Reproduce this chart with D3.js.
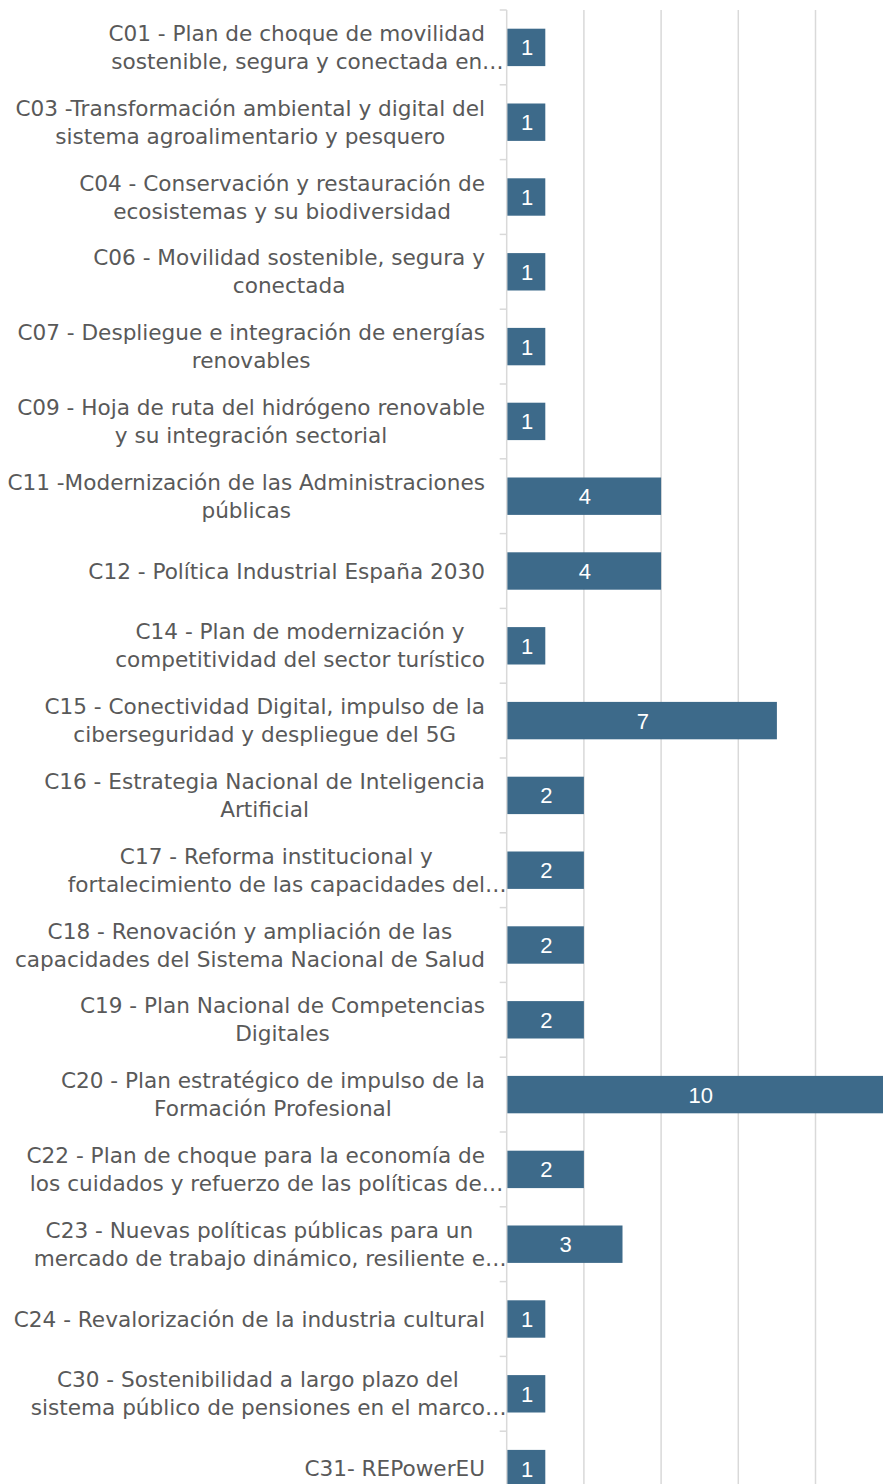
<!DOCTYPE html>
<html><head><meta charset="utf-8">
<script src="https://cdn.jsdelivr.net/npm/d3@7"></script>
<style>
html,body{margin:0;padding:0;background:#fff;overflow:hidden;}
svg{display:block;}
</style></head>
<body>
<script>
const categories = [
  "C01 - Plan de choque de movilidad|sostenible, segura y conectada en…",
  "C03 -Transformación ambiental y digital del|sistema agroalimentario y pesquero",
  "C04 - Conservación y restauración de|ecosistemas y su biodiversidad",
  "C06 - Movilidad sostenible, segura y|conectada",
  "C07 - Despliegue e integración de energías|renovables",
  "C09 - Hoja de ruta del hidrógeno renovable|y su integración sectorial",
  "C11 -Modernización de las Administraciones|públicas",
  "C12 - Política Industrial España 2030",
  "C14 - Plan de modernización y|competitividad del sector turístico",
  "C15 - Conectividad Digital, impulso de la|ciberseguridad y despliegue del 5G",
  "C16 - Estrategia Nacional de Inteligencia|Artificial",
  "C17 - Reforma institucional y|fortalecimiento de las capacidades del…",
  "C18 - Renovación y ampliación de las|capacidades del Sistema Nacional de Salud",
  "C19 - Plan Nacional de Competencias|Digitales",
  "C20 - Plan estratégico de impulso de la|Formación Profesional",
  "C22 - Plan de choque para la economía de|los cuidados y refuerzo de las políticas de…",
  "C23 - Nuevas políticas públicas para un|mercado de trabajo dinámico, resiliente e…",
  "C24 - Revalorización de la industria cultural",
  "C30 - Sostenibilidad a largo plazo del|sistema público de pensiones en el marco…",
  "C31- REPowerEU"
];
const values = [1,1,1,1,1,1,4,4,1,7,2,2,2,2,10,2,3,1,1,1];
const gridTicks = [2,4,6,8,10];

const W = 883, H = 1484;
const svg = d3.select("body").append("svg").attr("width", W).attr("height", H);

const x0 = 506.7;
const x = d3.scaleLinear().domain([0,10]).range([x0, x0 + 386]);
const y = d3.scaleBand().domain(categories).range([10, 10 + 74.8*20]).paddingInner(0.5).paddingOuter(0.25);

// gridlines
svg.append("g").selectAll("line").data(gridTicks).join("line")
  .attr("x1", d => x(d)).attr("x2", d => x(d))
  .attr("y1", 10).attr("y2", H)
  .attr("stroke", "#d9d9d9").attr("stroke-width", 1.5);

// bars
svg.append("g").selectAll("rect").data(categories).join("rect")
  .attr("x", x(0)).attr("y", d => y(d))
  .attr("width", (d,i) => x(values[i]) - x(0))
  .attr("height", y.bandwidth())
  .attr("fill", "#3d6a8a");

// value labels
svg.append("g").selectAll("text").data(categories).join("text")
  .attr("x", (d,i) => (x(0) + x(values[i]))/2 + 1)
  .attr("y", d => y(d) + y.bandwidth()/2)
  .attr("dy", "0.36em")
  .attr("text-anchor", "middle")
  .attr("fill", "#ffffff")
  .attr("font-family", "'Liberation Sans', Arial, sans-serif")
  .attr("font-size", 22)
  .text((d,i) => values[i]);

// axis line and ticks
const axisG = svg.append("g");
axisG.append("line").attr("x1", x0).attr("x2", x0).attr("y1", 10).attr("y2", H)
  .attr("stroke", "#d9d9d9").attr("stroke-width", 1.5);
axisG.selectAll("line.tk").data(d3.range(21)).join("line").attr("class","tk")
  .attr("x1", x0 - 7).attr("x2", x0)
  .attr("y1", i => 10 + i*y.step()).attr("y2", i => 10 + i*y.step())
  .attr("stroke", "#d9d9d9").attr("stroke-width", 1.5);

// category labels
const labelRight = 485, lineH = 28;
const lg = svg.append("g")
  .attr("font-family", "'DejaVu Sans', Verdana, sans-serif")
  .attr("font-size", 21.6)
  .attr("fill", "#595959");
categories.forEach((c) => {
  const lines = c.split("|");
  const cy = y(c) + y.bandwidth()/2;
  const texts = lines.map((ln, j) => lg.append("text")
      .attr("y", cy + (j - (lines.length-1)/2) * lineH)
      .attr("dy", "0.35em")
      .text(ln.replace("…","")));
  const widths = texts.map(t => t.node().getComputedTextLength());
  const w = d3.max(widths);
  const cx = labelRight - w/2;
  texts.forEach((t,j) => {
    t.attr("x", cx - widths[j]/2);
    t.text(lines[j]);
  });
});
</script>
</body></html>
